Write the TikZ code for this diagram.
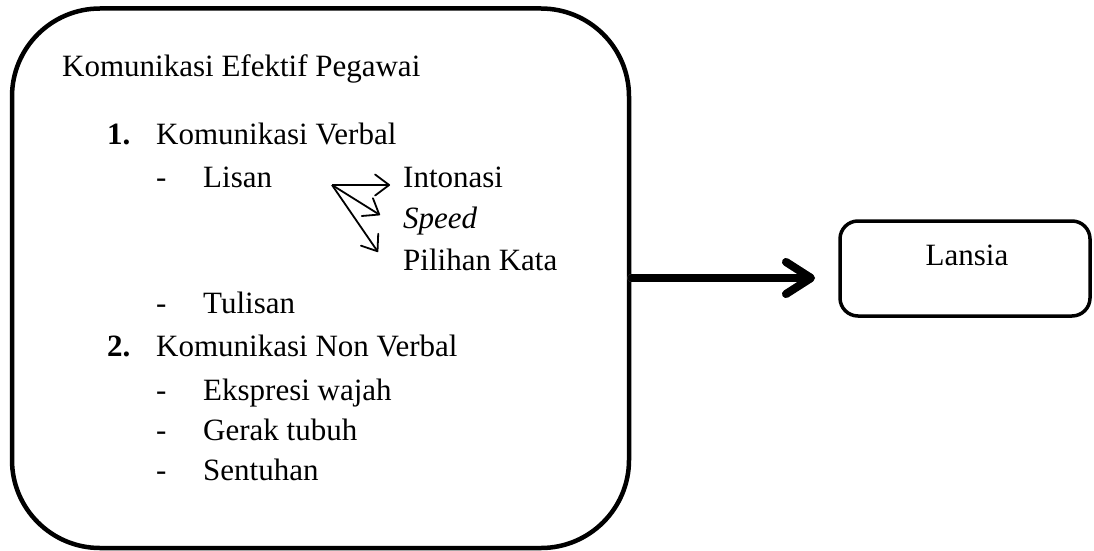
\documentclass[tikz,border=0pt]{standalone}
\usepackage{fontspec}
\setmainfont{Liberation Serif}
\usetikzlibrary{arrows.meta}
\begin{document}
\begin{tikzpicture}[x=1pt,y=-1pt,
  txt/.style={anchor=base west,inner sep=0pt,font=\fontsize{31}{36}\selectfont},
  bigbox/.style={draw,line width=4.5pt,rounded corners=88pt,inner sep=0pt},
  smallbox/.style={draw,line width=3.5pt,rounded corners=18pt,inner sep=0pt},
  thinarrow/.style={line width=1.8pt,-{Straight Barb[length=14pt,width=21pt,round]}},
  fatarrow/.style={line width=8pt,line cap=round,-{Straight Barb[length=25pt,width=32pt,round]}},
]
\useasboundingbox (0,0) rectangle (1094,551);
\node[bigbox,minimum width=617pt,minimum height=539.5pt] (big) at (320.5,278.25) {};
\node[smallbox,minimum width=250pt,minimum height=95pt] (lansia) at (965,268.5) {};
\node[txt,anchor=base] (lansiatext) at (967,265) {Lansia};

\node[txt] (title) at (62,77) {Komunikasi Efektif Pegawai};
\node[txt] (n1) at (107,144) {\textbf{1.}};
\node[txt] (verbal) at (156,144) {Komunikasi Verbal};
\node[txt] (d1) at (156,187) {-};
\node[txt] (lisan) at (203,187) {Lisan};
\node[txt] (intonasi) at (403,187) {Intonasi};
\node[txt] (speed) at (403,228) {\textit{Speed}};
\node[txt] (pilihan) at (403,270) {Pilihan Kata};
\node[txt] (d2) at (156,313) {-};
\node[txt] (tulisan) at (203,313) {Tulisan};
\node[txt] (n2) at (107,356) {\textbf{2.}};
\node[txt] (nonverbal) at (156,356) {Komunikasi Non Verbal};
\node[txt] (d3) at (156,400) {-};
\node[txt] (ekspresi) at (203,400) {Ekspresi wajah};
\node[txt] (d4) at (156,440) {-};
\node[txt] (gerak) at (203,440) {Gerak tubuh};
\node[txt] (d5) at (156,480) {-};
\node[txt] (sentuhan) at (203,480) {Sentuhan};

\coordinate (o) at (332,185);
\coordinate (t1) at (390,185);
\coordinate (t2) at (380,215);
\coordinate (t3) at (378,252);
\draw[thinarrow] (o) -- (t1);
\draw[thinarrow] (o) -- (t2);
\draw[thinarrow] (o) -- (t3);

\coordinate (as) at (big.east |- 0,278);
\coordinate (ae) at (815,278);
\begin{scope}[shift={(2,4)}]
\draw[fatarrow,draw=black!38] (as) -- (ae);
\end{scope}
\draw[fatarrow] (as) -- (ae);
\end{tikzpicture}
\end{document}
